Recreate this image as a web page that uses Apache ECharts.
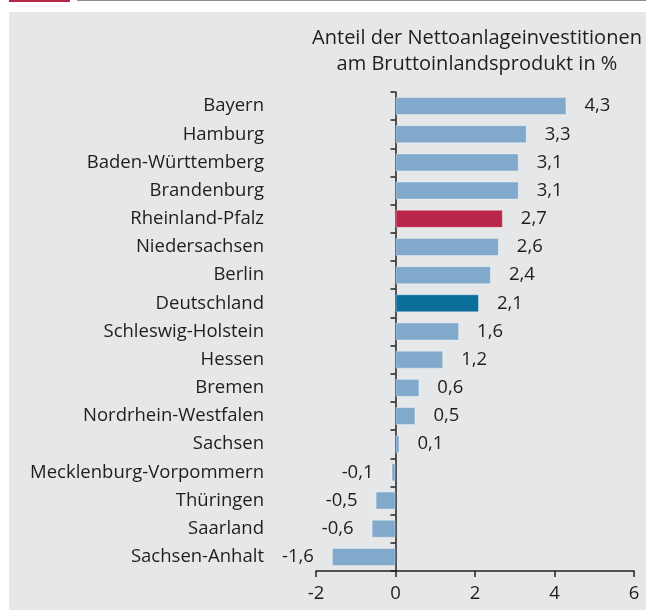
<!DOCTYPE html>
<html>
<head>
<meta charset="utf-8">
<script src="https://cdn.jsdelivr.net/npm/echarts@6/dist/echarts.min.js"></script>
<style>
  html, body { margin: 0; padding: 0; background: #fff; }
  #main { width: 646px; height: 610px; }
</style>
</head>
<body>
<div id="main"></div>
<script>
// Bundesländer, sortiert wie im Bild
const laender = ['Bayern', 'Hamburg', 'Baden-Württemberg', 'Brandenburg', 'Rheinland-Pfalz',
    'Niedersachsen', 'Berlin', 'Deutschland', 'Schleswig-Holstein', 'Hessen', 'Bremen',
    'Nordrhein-Westfalen', 'Sachsen', 'Mecklenburg-Vorpommern', 'Thüringen', 'Saarland', 'Sachsen-Anhalt'];
const anteil = [4.3, 3.3, 3.1, 3.1, 2.7, 2.6, 2.4, 2.1, 1.6, 1.2, 0.6, 0.5, 0.1, -0.1, -0.5, -0.6, -1.6];
const xTicks = [-2, 0, 2, 4, 6];

(function () {
    let myChart = echarts.init(document.getElementById('main'));
    const font = 'Open Sans';
    const txt = '#1e1e1e';

    // Balkenfarben: RLP rot, Deutschland dunkelblau
    let data = anteil.map(function (v, i) {
        let c = '#80a9cc';
        if (laender[i] === 'Rheinland-Pfalz') c = '#b8264a';
        if (laender[i] === 'Deutschland') c = '#0b6e9b';
        return {
            value: v,
            itemStyle: { color: c },
            label: { position: v < 0 ? 'left' : 'right' }
        };
    });

    let option = {
        backgroundColor: '#fff',
        animation: false,
        graphic: [
            { type: 'rect', shape: { x: 9, y: 0, width: 61, height: 2 }, style: { fill: '#b8264a' }, z: -10 },
            { type: 'rect', shape: { x: 77, y: 0, width: 569, height: 1 }, style: { fill: '#8c8c8c' }, z: -10 },
            { type: 'rect', shape: { x: 9, y: 12, width: 637, height: 598 }, style: { fill: '#e6e7e9' }, z: -10 }
        ],
        title: {
            text: 'Anteil der Nettoanlageinvestitionen\nam Bruttoinlandsprodukt in %',
            left: 472,
            top: 20,
            textAlign: 'center',
            textStyle: {
                fontFamily: font,
                fontWeight: 'normal',
                fontSize: 20,
                lineHeight: 26,
                color: txt
            }
        },
        grid: {
            left: 316,
            right: 12,
            top: 92,
            bottom: 39,
            containLabel: false,
            outerBoundsMode: 'none'
        },
        xAxis: {
            type: 'value',
            min: xTicks[0],
            max: xTicks[xTicks.length - 1],
            interval: 2,
            axisLine: { show: true, lineStyle: { color: '#222', width: 1.5 } },
            axisTick: { show: true, length: 6, lineStyle: { color: '#222', width: 1.5 } },
            splitLine: { show: false },
            axisLabel: {
                fontFamily: font,
                fontSize: 18.5,
                color: txt,
                margin: 13
            }
        },
        yAxis: {
            type: 'category',
            inverse: true,
            data: laender,
            axisLine: { show: true, onZero: true, lineStyle: { color: '#222', width: 1.5 } },
            axisTick: { show: true, length: 5, lineStyle: { color: '#222', width: 1.5 } },
            axisLabel: {
                fontFamily: font,
                fontSize: 18.5,
                color: txt,
                margin: 52
            }
        },
        series: [{
            type: 'bar',
            data: data,
            barWidth: 18,
            itemStyle: { borderColor: 'rgba(255,255,255,0.35)', borderWidth: 1 },
            label: {
                show: true,
                distance: 18,
                fontFamily: font,
                fontSize: 18.5,
                color: txt,
                formatter: function (p) {
                    return String(p.value).replace('.', ',');
                }
            }
        }]
    };
    myChart.setOption(option);
})();
</script>
</body>
</html>
